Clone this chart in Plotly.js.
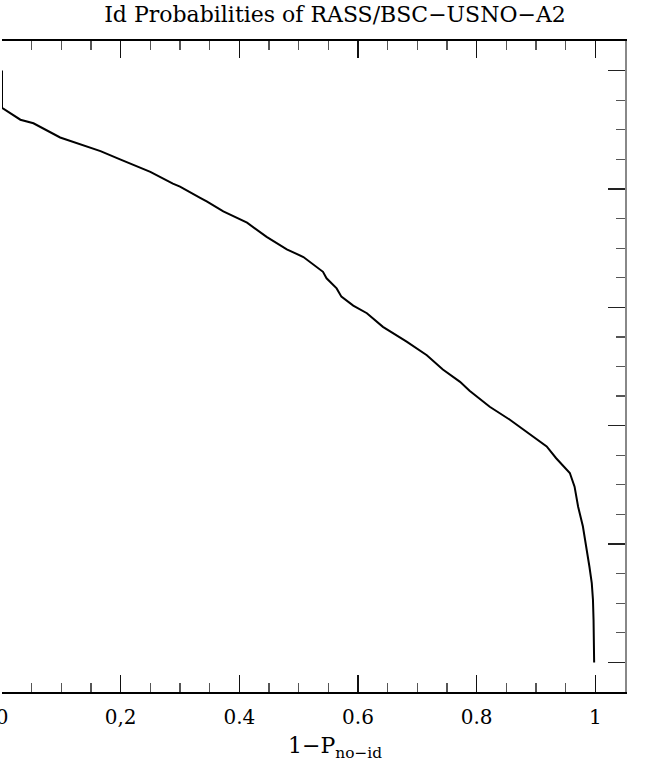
<!DOCTYPE html>
<html>
<head>
<meta charset="utf-8">
<script src="https://cdn.plot.ly/plotly-3.0.1.min.js"></script>
<style>
  body { margin: 0; background: #fff; }
  #grafikoa { width: 662px; height: 772px; }
</style>
</head>
<body>
<div id="grafikoa"></div>
<script>
// curve: x = 1 - P(no-id), y = fraction of sources
let oneMinusP = [0, 0, 0.031, 0.053, 0.098, 0.132, 0.166, 0.199, 0.250, 0.288, 0.300,
    0.334, 0.345, 0.373, 0.413, 0.446, 0.480, 0.508, 0.541, 0.547, 0.564, 0.572,
    0.592, 0.615, 0.642, 0.682, 0.716, 0.743, 0.772, 0.788, 0.822, 0.856, 0.889,
    0.918, 0.934, 0.957, 0.965, 0.971, 0.979, 0.985, 0.990, 0.994, 0.996, 0.997, 0.998]
let fraction = [1.0, 0.937, 0.917, 0.911, 0.887, 0.875, 0.864, 0.850, 0.829, 0.809, 0.804,
    0.785, 0.779, 0.762, 0.743, 0.719, 0.698, 0.685, 0.660, 0.649, 0.632, 0.618,
    0.603, 0.590, 0.567, 0.542, 0.519, 0.495, 0.474, 0.459, 0.432, 0.410, 0.386,
    0.365, 0.345, 0.320, 0.297, 0.263, 0.230, 0.196, 0.162, 0.134, 0.106, 0.072, 0.0]

let xTicks = [0, 0.2, 0.4, 0.6, 0.8, 1]
let xTickText = ["0", "0,2", "0.4", "0.6", "0.8", "1"]

let grafikoa = document.getElementById("grafikoa")

let serif = "DejaVu Serif, Liberation Serif, serif"

let data = [{
    x: oneMinusP,
    y: fraction,
    mode: "lines",
    line: {color: "#000", width: 2},
    hoverinfo: "skip"
}]

let layout = {
    width: 662,
    height: 772,
    margin: {l: 2, r: 37, t: 41, b: 80},
    paper_bgcolor: "#fff",
    plot_bgcolor: "#fff",
    showlegend: false,
    title: {
        text: "Id Probabilities of RASS/BSC\u2212USNO\u2212A2",
        x: 0.506, xanchor: "center",
        y: 0.981, yanchor: "middle",
        font: {family: serif, size: 22, color: "#000"}
    },
    xaxis: {
        range: [0, 1.05],
        tickvals: xTicks,
        ticktext: xTickText,
        ticks: "inside",
        ticklen: 17,
        tickwidth: 1.2,
        tickcolor: "#111",
        minor: {dtick: 0.05, ticks: "inside", ticklen: 9, tickwidth: 1.2, tickcolor: "#555"},
        showline: true,
        linewidth: 2,
        linecolor: "#000",
        mirror: "ticks",
        showgrid: false,
        zeroline: false,
        ticklabelstandoff: 6,
        ticklabeloverflow: "allow",
        tickfont: {family: serif, size: 20, color: "#000"}
    },
    yaxis: {
        range: [-0.05, 1.05],
        side: "right",
        dtick: 0.2,
        tick0: 0,
        ticks: "inside",
        ticklen: 17,
        tickwidth: 1.2,
        tickcolor: "#222",
        minor: {dtick: 0.05, ticks: "inside", ticklen: 9, tickwidth: 1.2, tickcolor: "#555"},
        showticklabels: false,
        showline: true,
        linewidth: 1.5,
        linecolor: "#888",
        mirror: false,
        showgrid: false,
        zeroline: false
    },
    annotations: [{
        text: "1\u2212P<sub>no\u2212id</sub>",
        xref: "paper", yref: "paper",
        x: 0.535, y: -0.086,
        xanchor: "center", yanchor: "middle",
        showarrow: false,
        font: {family: serif, size: 22, color: "#000"}
    }]
}

Plotly.newPlot(grafikoa, data, layout, {displayModeBar: false, staticPlot: true})
</script>
</body>
</html>
